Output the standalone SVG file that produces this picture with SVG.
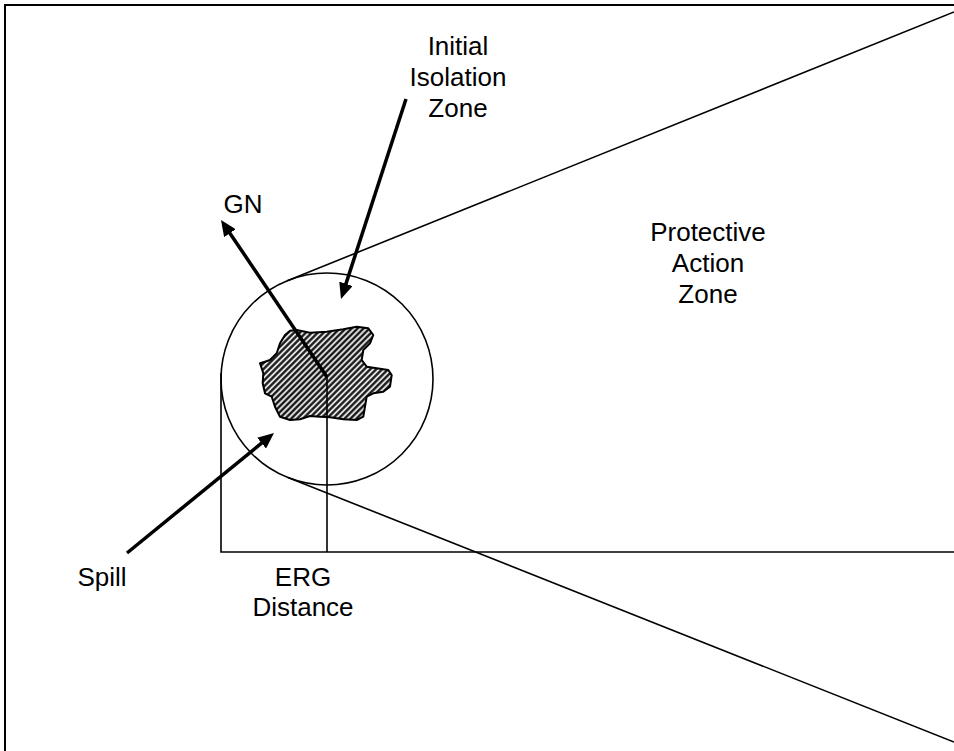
<svg xmlns="http://www.w3.org/2000/svg" width="954" height="751" viewBox="0 0 954 751">
  <style>
    .thin { fill: none; stroke: #000; stroke-width: 1.6; }
    .arrow { fill: none; stroke: #000; stroke-width: 3.5; marker-end: url(#head); }
    .lbl { font-family: "Liberation Sans", Arial, sans-serif; font-size: 26px; fill: #000; text-anchor: middle; }
  </style>
  <defs>
    <marker id="head" markerUnits="userSpaceOnUse" markerWidth="16" markerHeight="14" refX="4" refY="7" orient="auto">
      <path d="M0,0 L16,7 L0,14 z" fill="#000"/>
    </marker>
    <pattern id="hatch" patternUnits="userSpaceOnUse" width="4.2" height="4.2" patternTransform="rotate(-45)">
      <rect width="4.2" height="4.2" fill="#e0e0e0"/>
      <line x1="0" y1="2.1" x2="4.2" y2="2.1" stroke="#111" stroke-width="2.2"/>
    </pattern>
  </defs>
  <rect width="954" height="751" fill="#fff"/>

  <g id="frame">
    <rect x="5" y="5" width="970" height="770" fill="none" stroke="#000" stroke-width="2"/>
  </g>

  <g id="protective-action-zone">
    <line class="thin" x1="287.3" y1="280.7" x2="954" y2="12"/>
    <line class="thin" x1="287.9" y1="477.5" x2="954" y2="742"/>
  </g>

  <g id="initial-isolation-zone">
    <circle class="thin" cx="327" cy="379" r="106"/>
  </g>

  <g id="spill">
    <polygon points="290,330.7 296.7,330 310,332.7 326.7,331.7 343.3,329.3 356.7,326.7 368.3,328.3 373.3,335 370,343.3 363.3,350 361.7,360 366.7,366.7 376.7,368.3 388.3,370 391.7,375 390,386.7 383.3,391.7 373.3,393.3 366.7,396.7 365,406.7 363.3,416.7 356.7,420 343.3,419.3 330,417.3 320,416.7 310,416 300,419.3 290,420 280,416.7 275,406.7 271.7,396.7 265,393.3 262.7,383.3 263.3,373.3 260,363.3 265,361.7 270,360 276.7,353.3 280,343.3 285,335" fill="url(#hatch)" stroke="#000" stroke-width="2" stroke-linejoin="round"/>
  </g>

  <g id="connectors">
    <polyline class="thin" points="221,373 221,552 954,552"/>
    <line class="thin" x1="327" y1="377" x2="327" y2="552"/>
    <line class="arrow" x1="327" y1="377" x2="227.7" y2="229.9"/>
    <line class="arrow" x1="406" y1="99" x2="344.7" y2="287.6"/>
    <line class="arrow" x1="127" y1="553" x2="264.7" y2="440.6"/>
  </g>

  <g id="labels">
    <text class="lbl" x="458" y="55">Initial</text>
    <text class="lbl" x="458" y="86">Isolation</text>
    <text class="lbl" x="458" y="117">Zone</text>
    <text class="lbl" x="243" y="213">GN</text>
    <text class="lbl" x="708" y="241">Protective</text>
    <text class="lbl" x="708" y="272">Action</text>
    <text class="lbl" x="708" y="303">Zone</text>
    <text class="lbl" x="102" y="586">Spill</text>
    <text class="lbl" x="303" y="586">ERG</text>
    <text class="lbl" x="303" y="616">Distance</text>
  </g>
</svg>
